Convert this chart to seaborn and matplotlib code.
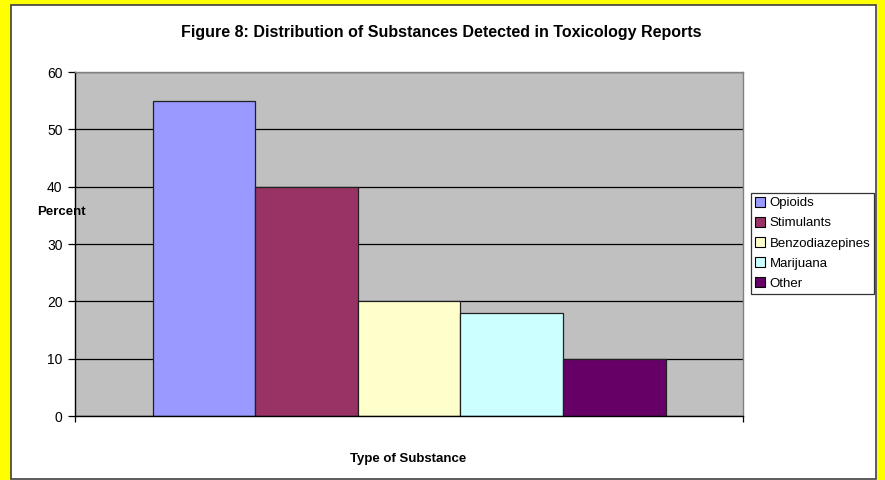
import matplotlib
matplotlib.use("Agg")
import matplotlib.pyplot as plt
import seaborn as sns
import pandas as pd
from matplotlib.patches import Rectangle

# Data
substances = ["Opioids", "Stimulants", "Benzodiazepines", "Marijuana", "Other"]
percent = [55, 40, 20, 18, 10]
bar_colors = ["#9999FF", "#993366", "#FFFFCC", "#CCFFFF", "#660066"]
y_ticks = [0, 10, 20, 30, 40, 50, 60]

title = "Figure 8: Distribution of Substances Detected in Toxicology Reports"
y_label = "Percent"
x_label = "Type of Substance"

sns.set_theme(style="white")
plt.rcParams["font.family"] = ["Liberation Sans", "DejaVu Sans"]
plt.rcParams.update({"text.color": "black", "axes.labelcolor": "black",
                     "xtick.color": "black", "ytick.color": "black"})

W, H = 885, 480
fig = plt.figure(figsize=(W / 100, H / 100), dpi=100)
fig.patch.set_facecolor("white")

# Yellow frame with a thin dark inner border
frame_kw = dict(transform=fig.transFigure, figure=fig, linewidth=0)
fig.patches.append(Rectangle((0, 0), 11 / W, 1, facecolor="#FFFF00", **frame_kw))
fig.patches.append(Rectangle((0, 1 - 5 / H), 1, 5 / H, facecolor="#FFFF00", **frame_kw))
fig.patches.append(Rectangle((877 / W, 0), 8 / W, 1, facecolor="#FFFF00", **frame_kw))
fig.patches.append(Rectangle((11 / W, 1 / H), (876 - 11) / W, (479 - 5) / H,
                             transform=fig.transFigure, figure=fig,
                             facecolor="none", edgecolor="#404040", linewidth=1.2))

# Plot area
left, right, top, bottom = 75, 743, 72, 416
ax = fig.add_axes([left / W, 1 - bottom / H, (right - left) / W, (bottom - top) / H])
ax.set_facecolor("#C0C0C0")

df = pd.DataFrame({"group": [""] * len(substances),
                   "Substance": substances,
                   "Percent": percent})
sns.barplot(data=df, x="group", y="Percent", hue="Substance",
            hue_order=substances, palette=bar_colors, saturation=1,
            width=513 / 668, dodge=True, edgecolor="#202020", linewidth=0.9,
            ax=ax)

ax.set_xlim(-0.5, 0.5)
ax.set_ylim(0, 60)
ax.set_yticks(y_ticks)
ax.set_yticklabels([str(v) for v in y_ticks], fontsize=10, color="black")
ax.set_xticks([-0.5, 0.5])
ax.set_xticklabels(["", ""])
ax.set_axisbelow(True)
ax.yaxis.grid(True, color="black", linewidth=0.9)
ax.xaxis.grid(False)
ax.tick_params(axis="y", direction="out", length=5, width=0.9, color="black",
               pad=4, left=True, labelcolor="black")
ax.tick_params(axis="x", direction="out", length=4, width=0.9, color="black",
               bottom=True)
ax.set_xlabel("")
ax.set_ylabel("")
for side in ("left", "bottom"):
    ax.spines[side].set_color("black")
    ax.spines[side].set_linewidth(1.0)
for side in ("top", "right"):
    ax.spines[side].set_color("#808080")
    ax.spines[side].set_linewidth(1.0)

# Legend
sns.move_legend(ax, loc="upper left",
                bbox_to_anchor=(751 / W, 1 - 193 / H),
                bbox_transform=fig.transFigure,
                title=None, frameon=True, fontsize=9.5,
                handlelength=0.75, handleheight=0.75, handletextpad=0.35,
                labelspacing=0.58, borderpad=0.3, borderaxespad=0,
                fancybox=False)
leg = ax.get_legend()
leg.get_frame().set_edgecolor("black")
leg.get_frame().set_linewidth(0.9)
for t in leg.get_texts():
    t.set_color("black")
for h in leg.legend_handles:
    h.set_edgecolor("black")
    h.set_linewidth(0.8)

# Titles
fig.text(441 / W, 1 - 32 / H, title, ha="center", va="center",
         fontsize=11.5, fontweight="bold", color="black")
fig.text(37 / W, 1 - 212 / H, y_label, ha="left", va="center",
         fontsize=9.5, fontweight="bold", color="black")
fig.text(408 / W, 1 - 459 / H, x_label, ha="center", va="center",
         fontsize=9.5, fontweight="bold", color="black")

fig.savefig("out.png", dpi=100)
